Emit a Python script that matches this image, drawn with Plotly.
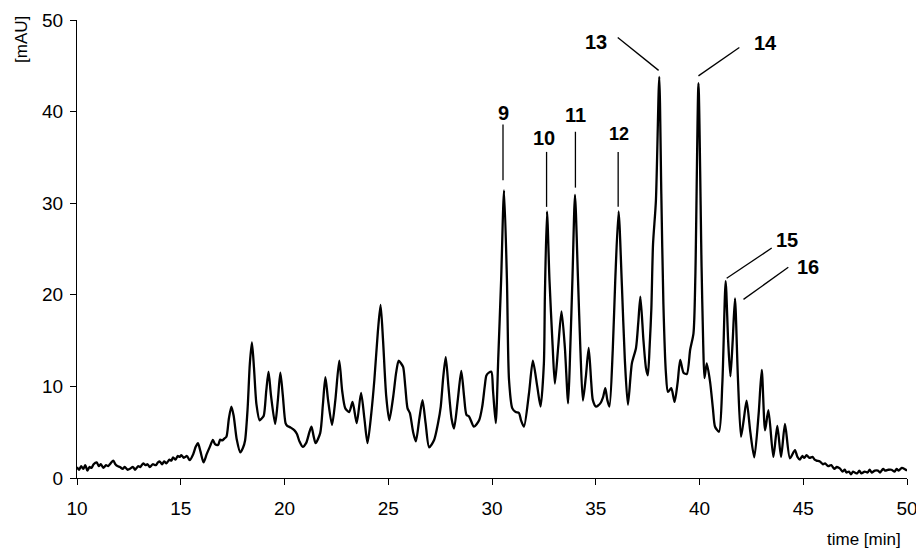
import plotly.graph_objects as go

# Chromatogram trace: retention time [min] and absorbance [mAU]
time_min = [
    10.0, 10.1, 10.2, 10.3, 10.4, 10.5, 10.6, 10.7, 10.8, 10.95, 11.05, 11.15, 11.27, 11.4, 11.5,
    11.62, 11.75, 11.85, 11.95, 12.07, 12.2, 12.3, 12.45, 12.55, 12.7, 12.8, 12.95, 13.05, 13.19,
    13.3, 13.4, 13.51, 13.65, 13.8, 13.9, 13.99, 14.1, 14.2, 14.31, 14.45, 14.55, 14.63, 14.75,
    14.85, 14.95, 15.03, 15.15, 15.3, 15.43, 15.6, 15.72, 15.83, 15.95, 16.1, 16.25, 16.4, 16.55,
    16.65, 16.8, 16.9, 17.0, 17.1, 17.2, 17.32, 17.44, 17.55, 17.7, 17.87, 18.0, 18.1, 18.22,
    18.33, 18.43, 18.53, 18.65, 18.8, 18.9, 19.0, 19.12, 19.23, 19.35, 19.55, 19.68, 19.8, 19.92,
    20.05, 20.13, 20.3, 20.48, 20.6, 20.72, 20.88, 21.04, 21.2, 21.3, 21.4, 21.5, 21.72, 21.85,
    21.97, 22.1, 22.29, 22.45, 22.64, 22.78, 22.93, 23.12, 23.28, 23.48, 23.69, 23.85, 24.0,
    24.18, 24.33, 24.5, 24.63, 24.75, 24.9, 25.05, 25.24, 25.38, 25.5, 25.62, 25.72, 25.82,
    25.93, 26.04, 26.2, 26.33, 26.5, 26.65, 26.8, 26.97, 27.21, 27.4, 27.53, 27.65, 27.77, 27.9,
    28.05, 28.17, 28.35, 28.52, 28.65, 28.77, 28.9, 29.13, 29.38, 29.53, 29.65, 29.73, 29.85,
    29.97, 30.05, 30.18, 30.3, 30.44, 30.58, 30.72, 30.82, 30.98, 31.14, 31.3, 31.4, 31.54,
    31.78, 31.97, 32.18, 32.34, 32.5, 32.55, 32.65, 32.77, 32.92, 33.03, 33.19, 33.35, 33.51,
    33.67, 33.77, 33.88, 34.0, 34.14, 34.26, 34.38, 34.52, 34.66, 34.78, 34.86, 35.01, 35.22,
    35.35, 35.46, 35.56, 35.66, 35.82, 35.94, 36.1, 36.26, 36.4, 36.55, 36.74, 36.94, 37.05,
    37.15, 37.3, 37.42, 37.51, 37.6, 37.68, 37.76, 37.9, 38.06, 38.16, 38.26, 38.38, 38.48,
    38.64, 38.8, 38.95, 39.07, 39.23, 39.39, 39.55, 39.71, 39.8, 39.95, 40.1, 40.18, 40.24,
    40.35, 40.51, 40.65, 40.75, 40.94, 41.1, 41.26, 41.38, 41.49, 41.6, 41.71, 41.85, 42.0,
    42.14, 42.27, 42.45, 42.64, 42.85, 43.0, 43.16, 43.32, 43.56, 43.75, 43.93, 44.12, 44.36,
    44.6, 44.72, 44.84, 44.95, 45.05, 45.16, 45.3, 45.45, 45.55, 45.64, 45.8, 45.95, 46.05,
    46.2, 46.35, 46.5, 46.62, 46.76, 46.9, 47.0, 47.08, 47.2, 47.3, 47.4, 47.48, 47.6, 47.7,
    47.8, 47.96, 48.1, 48.2, 48.3, 48.45, 48.6, 48.7, 48.85, 48.95, 49.1, 49.25, 49.4, 49.5,
    49.6, 49.75, 49.9, 50.0,
]
signal_mau = [
    1.2, 0.9, 1.3, 1.0, 1.4, 0.8, 1.2, 1.1, 1.5, 1.7, 1.3, 1.5, 1.1, 1.4, 1.3,
    1.6, 1.9, 1.5, 1.3, 1.2, 1.0, 1.2, 0.9, 1.0, 1.2, 0.9, 1.3, 1.2, 1.6,
    1.4, 1.5, 1.2, 1.5, 1.4, 1.7, 1.8, 1.5, 1.8, 1.6, 2.0, 1.9, 2.25, 2.0,
    2.4, 2.3, 2.5, 2.2, 2.4, 1.95, 2.6, 3.4, 3.8, 2.9, 1.7, 2.6, 3.4, 4.15,
    3.7, 3.6, 4.2, 4.1, 4.3, 4.5, 6.5, 7.8, 6.8, 4.2, 2.8, 3.3, 4.1, 7.5,
    12.5, 14.8, 12.0, 8.0, 6.3, 6.5, 6.8, 9.5, 11.6, 9.0, 5.9, 8.5, 11.5, 9.0,
    6.0, 5.7, 5.5, 5.2, 4.8, 4.0, 3.4, 3.8, 5.0, 5.6, 4.6, 3.8, 4.9, 8.0,
    11.0, 8.5, 5.8, 8.5, 12.8, 9.5, 7.6, 7.2, 8.3, 6.0, 9.3, 6.5, 3.8,
    7.0, 10.7, 16.0, 18.9, 15.0, 9.0, 6.3, 8.9, 11.5, 12.8, 12.5, 12.1, 10.0,
    7.6, 7.1, 5.0, 4.0, 6.5, 8.5, 6.0, 3.35, 4.15, 6.0, 7.8, 11.0, 13.2, 10.0,
    6.5, 5.4, 8.5, 11.7, 9.0, 6.9, 6.7, 5.6, 6.3, 7.8, 10.0, 11.2, 11.5,
    11.6, 9.5, 6.0, 13.0, 21.6, 31.4, 21.6, 10.7, 7.6, 7.2, 7.1, 6.3, 5.6,
    9.2, 12.8, 10.0, 7.8, 12.5, 20.0, 29.1, 21.6, 14.5, 10.3, 14.3, 18.2, 14.3,
    8.15, 14.0, 22.0, 30.9, 22.0, 14.0, 8.45, 11.0, 14.2, 10.5, 8.5, 7.8, 8.15,
    8.8, 9.8, 8.5, 7.8, 14.0, 21.6, 29.1, 21.0, 13.0, 8.0, 12.5, 14.2, 17.0,
    19.8, 15.0, 12.0, 11.2, 14.5, 18.5, 25.5, 30.3, 43.8, 31.0, 19.0, 11.5, 9.4,
    9.8, 8.3, 10.5, 12.9, 11.5, 11.35, 14.0, 15.8, 22.0, 43.1, 23.0, 14.5, 10.9,
    12.5, 10.5, 7.5, 5.6, 5.05, 10.3, 21.5, 15.0, 11.1, 15.0, 19.6, 11.0, 4.5,
    6.5, 8.45, 5.0, 2.25, 7.0, 11.8, 5.2, 7.4, 2.3, 5.7, 2.3, 5.9, 2.15,
    3.05, 2.3, 2.0, 2.4, 2.2, 2.5, 2.2, 2.3, 2.0, 1.9, 1.8, 1.5, 1.6,
    1.3, 1.4, 1.0, 1.2, 1.05, 0.7, 0.9, 0.6, 0.7, 0.4, 0.7, 0.6, 0.5, 0.8,
    0.5, 0.7, 0.6, 0.9, 0.6, 0.8, 0.8, 0.6, 1.0, 0.8, 0.9, 0.9, 0.7, 1.0,
    0.8, 1.1, 0.95, 0.8,
]

# Peak labels (text position in data units) and their leader lines
peak_labels = ["9", "10", "11", "12", "13", "14", "15", "16"]
label_time = [30.55, 32.5, 34.02, 36.1, 35.03, 43.2, 44.2, 45.24]
label_mau = [39.9, 37.1, 39.6, 37.6, 47.6, 47.5, 26.0, 23.0]
label_size = [20, 20, 20, 18, 20, 20, 20, 20]
leader_t0 = [30.53, 32.63, 34.02, 36.08, 36.06, 39.95, 41.31, 42.12]
leader_v0 = [38.6, 35.6, 37.8, 35.6, 48.1, 43.9, 21.8, 19.5]
leader_t1 = [30.53, 32.63, 34.02, 36.08, 38.03, 41.92, 43.48, 44.28]
leader_v1 = [32.5, 29.6, 31.7, 29.6, 44.5, 47.0, 25.1, 23.0]

x_ticks = [10, 15, 20, 25, 30, 35, 40, 45, 50]
y_ticks = [0, 10, 20, 30, 40, 50]

FONT = "Liberation Sans, Arial, sans-serif"

fig = go.Figure()
fig.add_trace(go.Scatter(
    x=time_min, y=signal_mau, mode="lines",
    line=dict(color="black", width=2.3, shape="spline", smoothing=0.7),
    showlegend=False, hoverinfo="skip",
))

for lab, tx, ty, sz in zip(peak_labels, label_time, label_mau, label_size):
    fig.add_annotation(x=tx, y=ty, xref="x", yref="y", text="<b>%s</b>" % lab,
                       showarrow=False, font=dict(family=FONT, size=sz, color="black"),
                       xanchor="center", yanchor="middle")

for a, b, c, d in zip(leader_t0, leader_v0, leader_t1, leader_v1):
    fig.add_shape(type="line", x0=a, y0=b, x1=c, y1=d, xref="x", yref="y",
                  line=dict(color="black", width=1.3))

fig.add_annotation(x=-0.0675, y=0.9585, xref="paper", yref="paper", text="[mAU]",
                   textangle=-90, showarrow=False,
                   font=dict(family=FONT, size=17, color="black"),
                   xanchor="center", yanchor="middle")
fig.add_annotation(x=0.9955, y=-0.1332, xref="paper", yref="paper", text="time [min]",
                   showarrow=False, font=dict(family=FONT, size=17, color="black"),
                   xanchor="right", yanchor="middle")

fig.update_layout(
    width=916, height=548,
    margin=dict(l=77, r=9, t=20, b=70, autoexpand=False),
    paper_bgcolor="white", plot_bgcolor="white",
    font=dict(family=FONT, size=19, color="black"),
    xaxis=dict(range=[10, 50], tickvals=x_ticks, ticks="outside", ticklen=6,
               tickcolor="black", showline=True, linecolor="black", linewidth=1,
               showgrid=False, zeroline=False, tickfont=dict(size=19),
               ticklabelstandoff=7, ticklabeloverflow="allow"),
    yaxis=dict(range=[0, 50], tickvals=y_ticks, ticks="outside", ticklen=6,
               tickcolor="black", showline=True, linecolor="black", linewidth=1,
               showgrid=False, zeroline=False, tickfont=dict(size=19),
               ticklabelstandoff=3),
)

# Remove the default page margin so the figure sits at the window's top-left corner
fig.write_html("out.html",
               config={"displayModeBar": False, "staticPlot": True},
               post_script="document.body.style.margin='0';document.body.style.overflow='hidden';")
